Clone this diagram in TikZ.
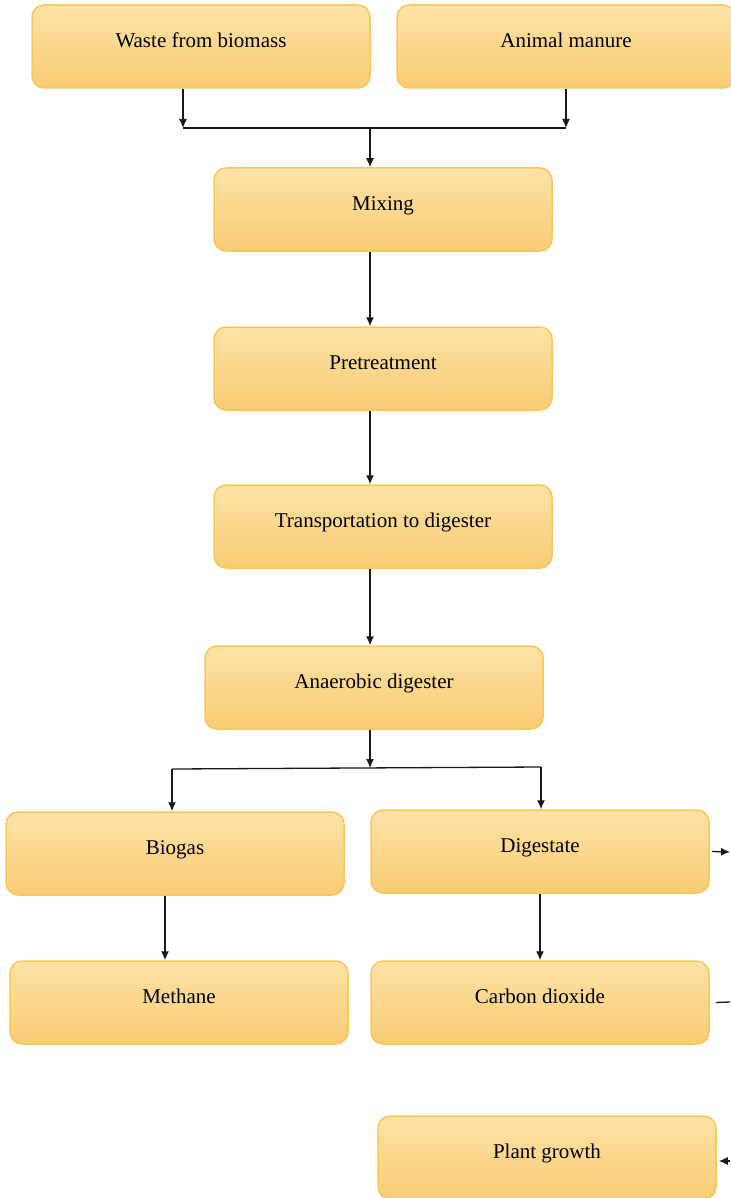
\documentclass[tikz,border=0pt]{standalone}
\usepackage{fontspec}
\setmainfont{Liberation Serif}
\usetikzlibrary{arrows.meta}
\definecolor{boxtop}{HTML}{FDE2A6}
\definecolor{boxbot}{HTML}{F9CC74}
\definecolor{boxline}{HTML}{F6C85A}
\tikzset{
  procbox/.style={draw=boxline, line width=0.75pt, rounded corners=6pt,
    top color=boxtop, bottom color=boxbot,
    minimum width=169pt, minimum height=41.5pt, inner sep=0pt,
    text height=7pt, text depth=6pt,
    font=\fontsize{10.5pt}{12pt}\selectfont, text=black},
  conn/.style={line width=0.65pt, black!90},
  arr/.style={conn, -{Latex[length=4.5pt,width=4pt]}}
}
\begin{document}
\begin{tikzpicture}[x=0.5pt,y=-0.5pt]
\useasboundingbox (0,0) rectangle (730,1198);
\node[procbox] (waste) at (201,46.5) {Waste from biomass};
\node[procbox] (animal) at (566,46.5) {Animal manure};
\node[procbox] (mixing) at (383,209.5) {Mixing};
\node[procbox] (pre) at (383,368.5) {Pretreatment};
\node[procbox] (trans) at (383,526.5) {Transportation to digester};
\node[procbox] (anaer) at (374,687.5) {Anaerobic digester};
\node[procbox] (biogas) at (175,853.5) {Biogas};
\node[procbox] (dig) at (540,851.5) {Digestate};
\node[procbox] (meth) at (179,1002.5) {Methane};
\node[procbox] (co2) at (540,1002.5) {Carbon dioxide};
\node[procbox] (plant) at (547,1157.5) {Plant growth};
\coordinate (j1) at (370,128);
\coordinate (j2) at (370,768);
\coordinate (dR) at (730,852);
\coordinate (cR) at (730,1002);
\coordinate (pR) at (730,1161);
% top merge
\draw[arr] ([xshift=-9pt]waste.south) -- ([xshift=-9pt]waste.south |- j1);
\draw[arr] (animal.south) -- (animal.south |- j1);
\draw[conn] ([xshift=-9pt]waste.south |- j1) -- (animal.south |- j1);
\draw[arr] (j1) -- (mixing.north -| j1);
% chain
\draw[arr] (mixing.south -| j1) -- (pre.north -| j1);
\draw[arr] (pre.south -| j1) -- (trans.north -| j1);
\draw[arr] (trans.south -| j1) -- (anaer.north -| j1);
\draw[arr] (anaer.south -| j2) -- (j2);
% split
\coordinate (sL) at (172,769);
\coordinate (sR) at (541,767);
\draw[conn] (sL) -- (sR);
\draw[arr] (sL) -- (biogas.north -| sL);
\draw[arr] (sR) -- (dig.north -| sR);
\draw[arr] ([xshift=-5pt]biogas.south) -- ([xshift=-5pt]meth.north -| biogas.south);
\draw[arr] (dig.south) -- (co2.north);
% right edge connectors
\draw[arr] ([xshift=1pt]dig.east) -- (dR);
\draw[conn] ([xshift=3pt]co2.east) -- (cR);
\draw[arr] (pR) -- ([xshift=1pt]plant.east |- pR);
\end{tikzpicture}
\end{document}
